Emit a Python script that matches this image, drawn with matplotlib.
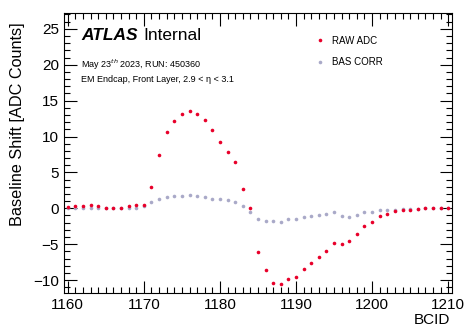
import numpy as np
import matplotlib
matplotlib.use("Agg")
import matplotlib.pyplot as plt
from matplotlib.ticker import MultipleLocator

plt.rcParams['font.family'] = ['Liberation Sans', 'DejaVu Sans']
plt.rcParams['mathtext.fontset'] = 'custom'
plt.rcParams['mathtext.rm'] = 'Liberation Sans'

# BCID values
bcid = np.arange(1160, 1211)

# raw ADC baseline shift
raw_adc = [0.2, 0.3, 0.3, 0.4, 0.3, 0.1, 0.1, 0.1, 0.3, 0.4,
           0.5, 3.0, 7.4, 10.6, 12.1, 13.1, 13.6, 13.1, 12.3, 10.9,
           9.3, 7.9, 6.5, 2.7, 0.1, -6.1, -8.6, -10.4, -10.6, -9.9,
           -9.6, -8.5, -7.6, -6.85, -6.0, -4.9, -5.0, -4.5, -3.6, -2.5,
           -1.9, -1.1, -0.75, -0.4, -0.3, -0.25, -0.1, 0.1, 0.1, 0.1,
           0.1]

# after baseline correction
bas_corr = [0.0, 0.05, 0.05, 0.05, 0.05, 0.0, 0.0, 0.0, 0.05, 0.05,
            0.3, 0.9, 1.35, 1.6, 1.7, 1.75, 1.8, 1.75, 1.55, 1.35,
            1.25, 1.1, 0.9, 0.35, -0.5, -1.5, -1.75, -1.75, -1.9, -1.5,
            -1.5, -1.25, -1.1, -0.95, -0.8, -0.55, -1.1, -1.2, -0.95, -0.55,
            -0.45, -0.3, -0.25, -0.2, -0.15, -0.1, -0.05, 0.0, 0.0, 0.0,
            0.0]

fig = plt.figure(figsize=(4.65, 3.3), dpi=100)
ax = fig.add_axes([0.1376, 0.112, 0.8344, 0.8486])

ax.plot(bcid, raw_adc, 'o', color='#e8002a', markersize=2.6, markeredgewidth=0,
        label='RAW ADC', zorder=3)
ax.plot(bcid, bas_corr, 'o', color='#a9a9c8', markersize=2.6, markeredgewidth=0,
        label='BAS CORR', zorder=2)

ax.set_xlim(1159.5, 1210.5)
ax.set_ylim(-11.8, 27.2)

ax.xaxis.set_major_locator(MultipleLocator(10))
ax.xaxis.set_minor_locator(MultipleLocator(1))
ax.yaxis.set_major_locator(MultipleLocator(5))
ax.yaxis.set_minor_locator(MultipleLocator(1))
ax.tick_params(which='both', direction='in', top=True, right=True, labelsize=11)
ax.tick_params(which='major', length=9, width=0.8)
ax.tick_params(which='minor', length=4.5, width=0.8)

ax.set_xlabel('BCID', fontsize=11, ha='right')
ax.xaxis.set_label_coords(0.995, -0.072)
ax.set_ylabel('Baseline Shift [ADC Counts]', fontsize=11.7, ha='right')
ax.yaxis.set_label_coords(-0.1, 0.968)

ax.text(0.045, 0.905, 'ATLAS', transform=ax.transAxes, fontsize=12.5,
        fontweight='bold', fontstyle='italic')
ax.text(0.205, 0.905, 'Internal', transform=ax.transAxes, fontsize=12.5)
ax.text(0.045, 0.805, 'May 23$^{th}$ 2023, RUN: 450360', transform=ax.transAxes,
        fontsize=6.5)
ax.text(0.045, 0.755, 'EM Endcap, Front Layer, 2.9 < η < 3.1',
        transform=ax.transAxes, fontsize=6.5)

ax.legend(loc='upper right', bbox_to_anchor=(0.845, 0.95), frameon=False,
          fontsize=7, handletextpad=0.8, markerscale=1.0, labelspacing=1.2,
          handlelength=1.0)

fig.savefig('out.png', dpi=100)
